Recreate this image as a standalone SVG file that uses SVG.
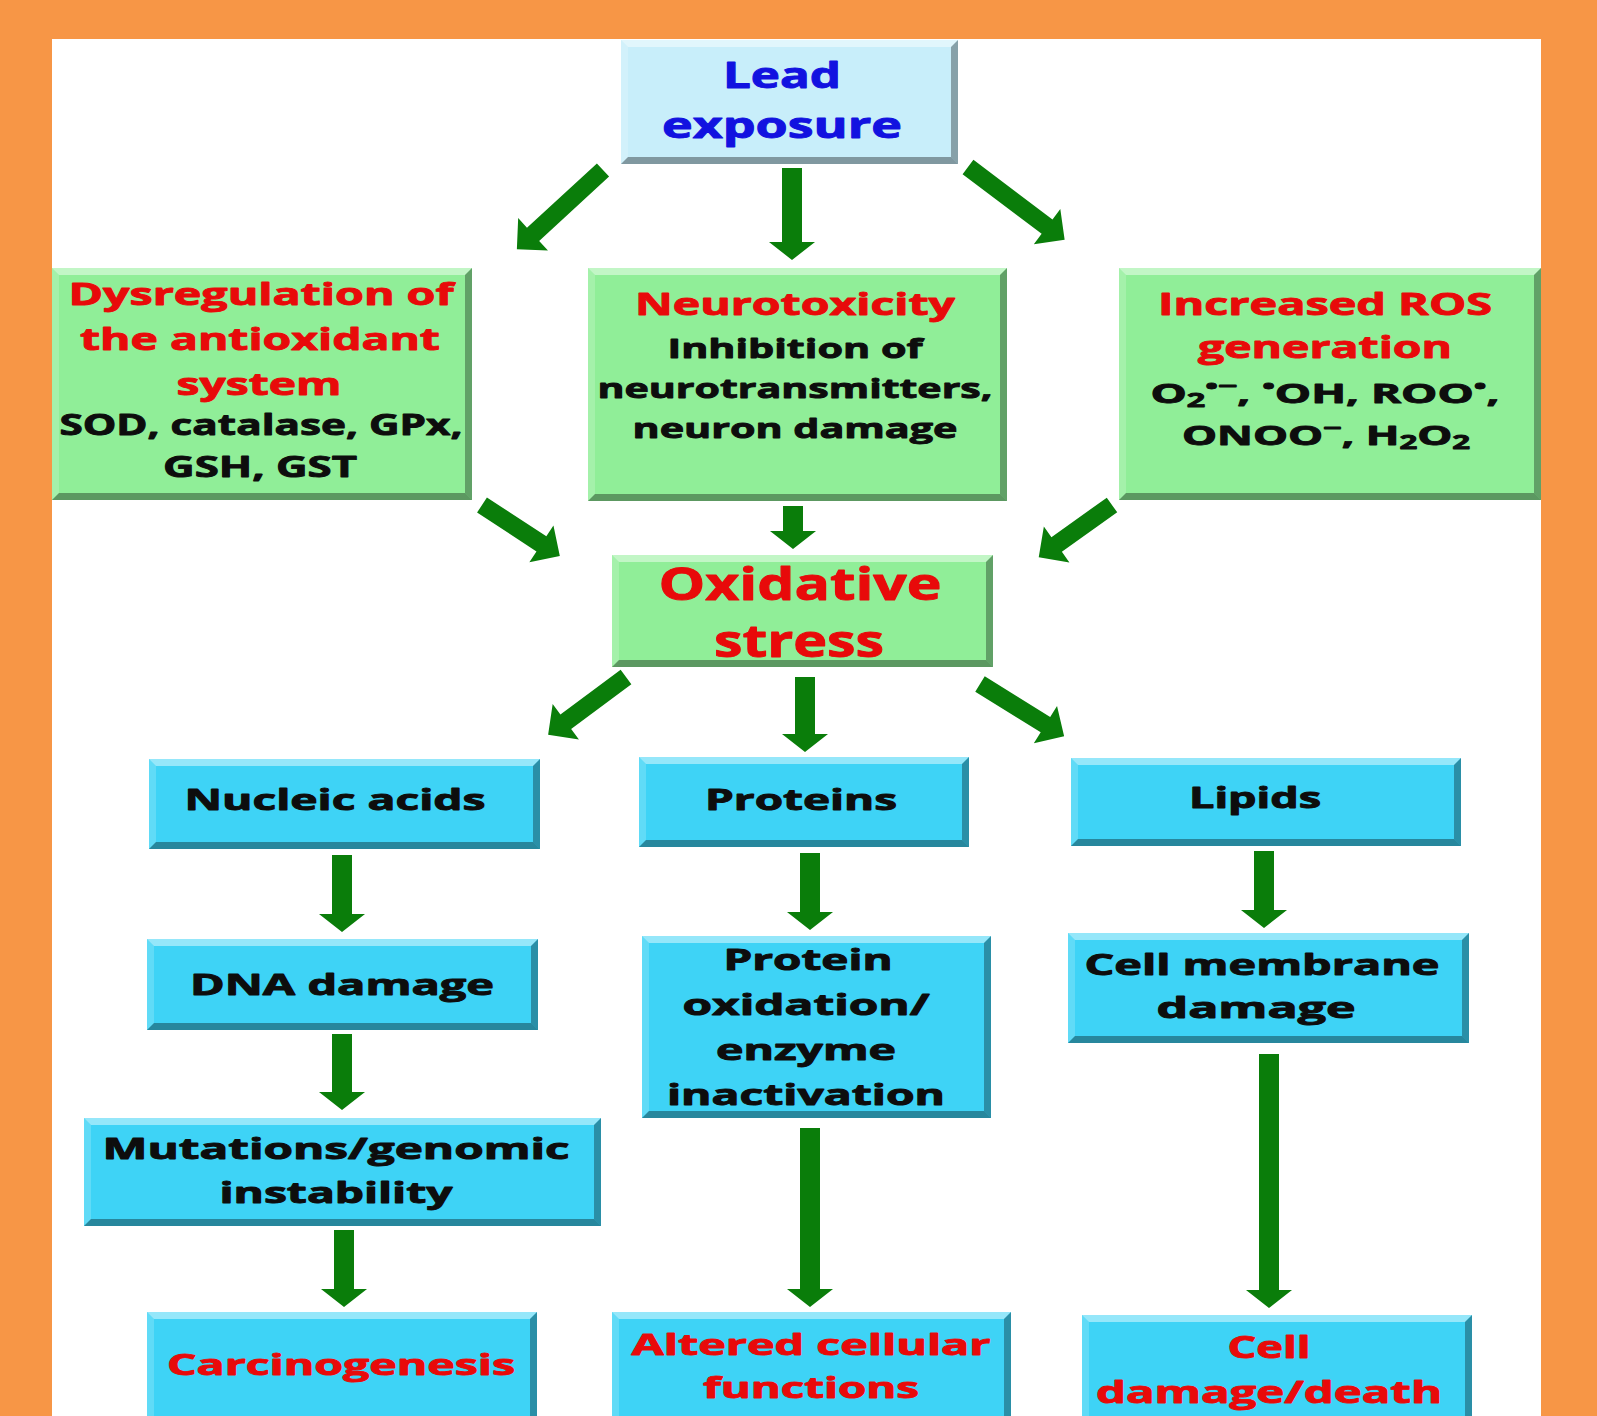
<svg xmlns="http://www.w3.org/2000/svg" width="1597" height="1416" viewBox="0 0 1597 1416">
<style>
.bg{fill:#F79646}
.panel{fill:#FFFFFF}
.g{fill:#90EE98}
.bl{fill:#3ED3F6}
.lb{fill:#C8EEFA}
.hi{fill:#FFFFFF;opacity:.45}
.le{fill:#FFFFFF;opacity:.18}
.ri{fill:#000000;opacity:.32}
.bo{fill:#000000;opacity:.36}
.t{font-family:"Open Sans","Liberation Sans",sans-serif;font-weight:bold;text-anchor:middle;stroke-width:0.9;stroke-linejoin:round}
.red{fill:#E80A0A;stroke:#E80A0A}
.blk{fill:#0D0D0D;stroke:#0D0D0D}
.blu{fill:#1212E0;stroke:#1212E0}
.arr{fill:#0A7D0A}
</style>
<rect class="bg" x="0" y="0" width="1597" height="1416"/>
<rect class="panel" x="52" y="39" width="1489" height="1377"/>

<g id="connectors">
<polygon class="arr" points="782,168 802,168 802,242 815,242 792,260 769,242 782,242"/>
<polygon class="arr" points="783,506 803,506 803,531 816,531 793,549 770,531 783,531"/>
<polygon class="arr" points="795,677 815,677 815,734 828,734 805,752 782,734 795,734"/>
<polygon class="arr" points="332,855 352,855 352,914 365,914 342,932 319,914 332,914"/>
<polygon class="arr" points="332,1034 352,1034 352,1092 365,1092 342,1110 319,1092 332,1092"/>
<polygon class="arr" points="334,1230 354,1230 354,1289 367,1289 344,1307 321,1289 334,1289"/>
<polygon class="arr" points="800,853 820,853 820,912 833,912 810,930 787,912 800,912"/>
<polygon class="arr" points="800,1128 820,1128 820,1289 833,1289 810,1307 787,1289 800,1289"/>
<polygon class="arr" points="1254,851 1274,851 1274,910 1287,910 1264,928 1241,910 1254,910"/>
<polygon class="arr" points="1259,1054 1279,1054 1279,1290 1292,1290 1269,1308 1246,1290 1259,1290"/>
<path class="arr" transform="translate(603,170) rotate(137.4)" d="M0,-9H95V-22L117,0L95,22V9H0Z"/>
<path class="arr" transform="translate(968,167) rotate(37)" d="M0,-9H99V-22L121,0L99,22V9H0Z"/>
<path class="arr" transform="translate(482,505) rotate(33.2)" d="M0,-9H71V-22L93,0L71,22V9H0Z"/>
<path class="arr" transform="translate(1112,505) rotate(144.5)" d="M0,-9H68V-22L90,0L68,22V9H0Z"/>
<path class="arr" transform="translate(626,677) rotate(143.4)" d="M0,-9H75V-22L97,0L75,22V9H0Z"/>
<path class="arr" transform="translate(980,684) rotate(31.8)" d="M0,-9H77V-22L99,0L77,22V9H0Z"/>
</g>

<g id="lead">
<rect class="lb" x="621" y="40" width="337" height="124"/>
<path class="hi" d="M621,40h337l-7,7h-323z"/>
<path class="le" d="M621,40v124l7,-7v-110z"/>
<path class="ri" d="M958,40v124l-7,-7v-110z"/>
<path class="bo" d="M621,164h337l-7,-7h-323z"/>
<text class="t blu" x="782" y="88" font-size="35" textLength="118" lengthAdjust="spacingAndGlyphs">Lead</text>
<text class="t blu" x="782" y="138" font-size="35" textLength="240" lengthAdjust="spacingAndGlyphs">exposure</text>
</g>

<g id="dysregulation">
<rect class="g" x="52" y="268" width="420" height="232"/>
<path class="hi" d="M52,268h420l-7,7h-406z"/>
<path class="le" d="M52,268v232l7,-7v-218z"/>
<path class="ri" d="M472,268v232l-7,-7v-218z"/>
<path class="bo" d="M52,500h420l-7,-7h-406z"/>
<text class="t red" x="261" y="305" font-size="30" textLength="385" lengthAdjust="spacingAndGlyphs">Dysregulation of</text>
<text class="t red" x="260" y="350" font-size="30" textLength="360" lengthAdjust="spacingAndGlyphs">the antioxidant</text>
<text class="t red" x="259" y="395" font-size="30" textLength="165" lengthAdjust="spacingAndGlyphs">system</text>
<text class="t blk" x="261" y="435" font-size="29" textLength="403" lengthAdjust="spacingAndGlyphs">SOD, catalase, GPx,</text>
<text class="t blk" x="260" y="477" font-size="29" textLength="194" lengthAdjust="spacingAndGlyphs">GSH, GST</text>
</g>

<g id="neurotoxicity">
<rect class="g" x="588" y="268" width="419" height="233"/>
<path class="hi" d="M588,268h419l-7,7h-405z"/>
<path class="le" d="M588,268v233l7,-7v-219z"/>
<path class="ri" d="M1007,268v233l-7,-7v-219z"/>
<path class="bo" d="M588,501h419l-7,-7h-405z"/>
<text class="t red" x="795" y="315" font-size="30" textLength="320" lengthAdjust="spacingAndGlyphs">Neurotoxicity</text>
<text class="t blk" x="795" y="358" font-size="27" textLength="255" lengthAdjust="spacingAndGlyphs">Inhibition of</text>
<text class="t blk" x="795" y="398" font-size="27" textLength="395" lengthAdjust="spacingAndGlyphs">neurotransmitters,</text>
<text class="t blk" x="795" y="438" font-size="27" textLength="325" lengthAdjust="spacingAndGlyphs">neuron damage</text>
</g>

<g id="ros">
<rect class="g" x="1119" y="268" width="422" height="232"/>
<path class="hi" d="M1119,268h422l-7,7h-408z"/>
<path class="le" d="M1119,268v232l7,-7v-218z"/>
<path class="ri" d="M1541,268v232l-7,-7v-218z"/>
<path class="bo" d="M1119,500h422l-7,-7h-408z"/>
<text class="t red" x="1325" y="315" font-size="30" textLength="334" lengthAdjust="spacingAndGlyphs">Increased ROS</text>
<text class="t red" x="1325" y="358" font-size="30" textLength="254" lengthAdjust="spacingAndGlyphs">generation</text>
<text class="t blk" x="1325" y="403" font-size="27" textLength="349" lengthAdjust="spacingAndGlyphs">O<tspan font-size="19" dy="4">2</tspan><tspan font-size="20" dy="-14">•−</tspan><tspan dy="10">, </tspan><tspan font-size="20" dy="-10">•</tspan><tspan dy="10">OH, ROO</tspan><tspan font-size="20" dy="-10">•</tspan><tspan dy="10">,</tspan></text>
<text class="t blk" x="1326" y="445" font-size="27" textLength="288" lengthAdjust="spacingAndGlyphs">ONOO<tspan font-size="20" dy="-10">−</tspan><tspan dy="10">, H</tspan><tspan font-size="19" dy="4">2</tspan><tspan dy="-4">O</tspan><tspan font-size="19" dy="4">2</tspan></text>
</g>

<g id="oxidative-stress">
<rect class="g" x="612" y="555" width="381" height="112"/>
<path class="hi" d="M612,555h381l-7,7h-367z"/>
<path class="le" d="M612,555v112l7,-7v-98z"/>
<path class="ri" d="M993,555v112l-7,-7v-98z"/>
<path class="bo" d="M612,667h381l-7,-7h-367z"/>
<text class="t red" x="800" y="600" font-size="44" textLength="283" lengthAdjust="spacingAndGlyphs">Oxidative</text>
<text class="t red" x="799" y="657" font-size="44" textLength="170" lengthAdjust="spacingAndGlyphs">stress</text>
</g>

<g id="nucleic-acids">
<rect class="bl" x="149" y="759" width="391" height="90"/>
<path class="hi" d="M149,759h391l-7,7h-377z"/>
<path class="le" d="M149,759v90l7,-7v-76z"/>
<path class="ri" d="M540,759v90l-7,-7v-76z"/>
<path class="bo" d="M149,849h391l-7,-7h-377z"/>
<text class="t blk" x="335" y="810" font-size="28" textLength="301" lengthAdjust="spacingAndGlyphs">Nucleic acids</text>
</g>

<g id="proteins">
<rect class="bl" x="639" y="757" width="330" height="90"/>
<path class="hi" d="M639,757h330l-7,7h-316z"/>
<path class="le" d="M639,757v90l7,-7v-76z"/>
<path class="ri" d="M969,757v90l-7,-7v-76z"/>
<path class="bo" d="M639,847h330l-7,-7h-316z"/>
<text class="t blk" x="801" y="810" font-size="28" textLength="192" lengthAdjust="spacingAndGlyphs">Proteins</text>
</g>

<g id="lipids">
<rect class="bl" x="1071" y="758" width="390" height="88"/>
<path class="hi" d="M1071,758h390l-7,7h-376z"/>
<path class="le" d="M1071,758v88l7,-7v-74z"/>
<path class="ri" d="M1461,758v88l-7,-7v-74z"/>
<path class="bo" d="M1071,846h390l-7,-7h-376z"/>
<text class="t blk" x="1255" y="808" font-size="28" textLength="132" lengthAdjust="spacingAndGlyphs">Lipids</text>
</g>

<g id="dna-damage">
<rect class="bl" x="147" y="939" width="391" height="91"/>
<path class="hi" d="M147,939h391l-7,7h-377z"/>
<path class="le" d="M147,939v91l7,-7v-77z"/>
<path class="ri" d="M538,939v91l-7,-7v-77z"/>
<path class="bo" d="M147,1030h391l-7,-7h-377z"/>
<text class="t blk" x="342" y="995" font-size="28" textLength="304" lengthAdjust="spacingAndGlyphs">DNA damage</text>
</g>

<g id="protein-oxidation">
<rect class="bl" x="642" y="936" width="349" height="182"/>
<path class="hi" d="M642,936h349l-7,7h-335z"/>
<path class="le" d="M642,936v182l7,-7v-168z"/>
<path class="ri" d="M991,936v182l-7,-7v-168z"/>
<path class="bo" d="M642,1118h349l-7,-7h-335z"/>
<text class="t blk" x="808" y="970" font-size="28" textLength="169" lengthAdjust="spacingAndGlyphs">Protein</text>
<text class="t blk" x="806" y="1015" font-size="28" textLength="247" lengthAdjust="spacingAndGlyphs">oxidation/</text>
<text class="t blk" x="806" y="1060" font-size="28" textLength="180" lengthAdjust="spacingAndGlyphs">enzyme</text>
<text class="t blk" x="806" y="1105" font-size="28" textLength="278" lengthAdjust="spacingAndGlyphs">inactivation</text>
</g>

<g id="cell-membrane-damage">
<rect class="bl" x="1068" y="933" width="401" height="110"/>
<path class="hi" d="M1068,933h401l-7,7h-387z"/>
<path class="le" d="M1068,933v110l7,-7v-96z"/>
<path class="ri" d="M1469,933v110l-7,-7v-96z"/>
<path class="bo" d="M1068,1043h401l-7,-7h-387z"/>
<text class="t blk" x="1262" y="975" font-size="28" textLength="355" lengthAdjust="spacingAndGlyphs">Cell membrane</text>
<text class="t blk" x="1256" y="1018" font-size="28" textLength="199" lengthAdjust="spacingAndGlyphs">damage</text>
</g>

<g id="mutations">
<rect class="bl" x="84" y="1118" width="517" height="108"/>
<path class="hi" d="M84,1118h517l-7,7h-503z"/>
<path class="le" d="M84,1118v108l7,-7v-94z"/>
<path class="ri" d="M601,1118v108l-7,-7v-94z"/>
<path class="bo" d="M84,1226h517l-7,-7h-503z"/>
<text class="t blk" x="336" y="1159" font-size="28" textLength="467" lengthAdjust="spacingAndGlyphs">Mutations/genomic</text>
<text class="t blk" x="336" y="1203" font-size="28" textLength="233" lengthAdjust="spacingAndGlyphs">instability</text>
</g>

<g id="carcinogenesis">
<rect class="bl" x="147" y="1312" width="390" height="130"/>
<path class="hi" d="M147,1312h390l-7,7h-376z"/>
<path class="le" d="M147,1312v130l7,-7v-116z"/>
<path class="ri" d="M537,1312v130l-7,-7v-116z"/>
<text class="t red" x="341" y="1375" font-size="29" textLength="348" lengthAdjust="spacingAndGlyphs">Carcinogenesis</text>
</g>

<g id="altered-cellular-functions">
<rect class="bl" x="612" y="1312" width="399" height="130"/>
<path class="hi" d="M612,1312h399l-7,7h-385z"/>
<path class="le" d="M612,1312v130l7,-7v-116z"/>
<path class="ri" d="M1011,1312v130l-7,-7v-116z"/>
<text class="t red" x="811" y="1355" font-size="29" textLength="359" lengthAdjust="spacingAndGlyphs">Altered cellular</text>
<text class="t red" x="811" y="1398" font-size="29" textLength="216" lengthAdjust="spacingAndGlyphs">functions</text>
</g>

<g id="cell-damage-death">
<rect class="bl" x="1082" y="1315" width="390" height="130"/>
<path class="hi" d="M1082,1315h390l-7,7h-376z"/>
<path class="le" d="M1082,1315v130l7,-7v-116z"/>
<path class="ri" d="M1472,1315v130l-7,-7v-116z"/>
<text class="t red" x="1269" y="1358" font-size="30" textLength="83" lengthAdjust="spacingAndGlyphs">Cell</text>
<text class="t red" x="1269" y="1403" font-size="30" textLength="346" lengthAdjust="spacingAndGlyphs">damage/death</text>
</g>
</svg>
